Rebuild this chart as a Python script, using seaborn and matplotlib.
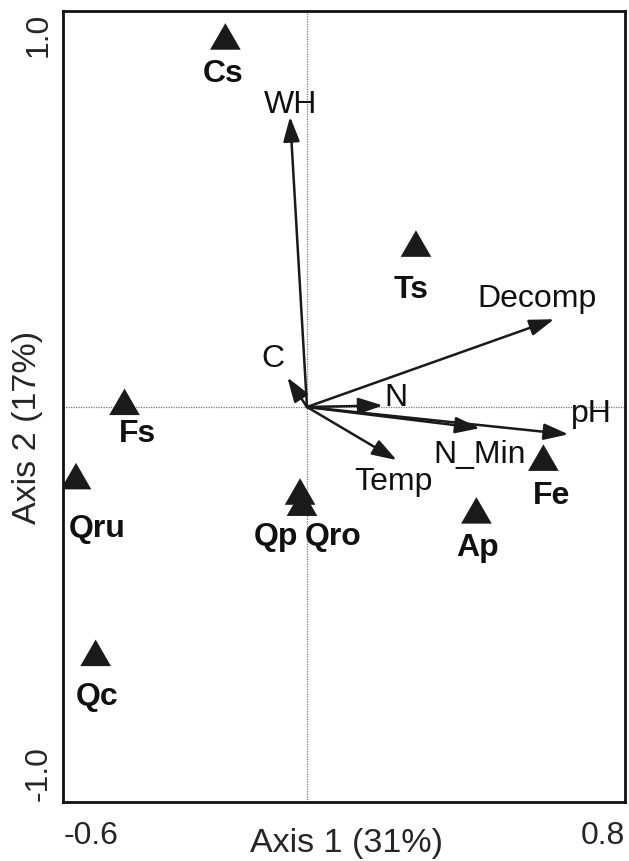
import matplotlib
matplotlib.use("Agg")
import matplotlib.pyplot as plt
import matplotlib.transforms as mtransforms
from matplotlib.path import Path
import seaborn as sns
import pandas as pd

# ---- data ----
sites = ["Cs", "Ts", "Fs", "Qru", "Qc", "Qp", "Qro", "Ap", "Fe"]
site_x = [-0.212, 0.283, -0.474, -0.600, -0.549, -0.018, -0.013, 0.440, 0.614]
site_y = [0.951, 0.413, 0.002, -0.191, -0.650, -0.231, -0.260, -0.280, -0.143]
site_label_x = [-0.219, 0.271, -0.440, -0.544, -0.544, -0.081, 0.068, 0.442, 0.636]
site_label_y = [0.845, 0.283, -0.090, -0.337, -0.774, -0.358, -0.358, -0.387, -0.252]

variables = ["WH", "C", "Decomp", "N", "pH", "N_Min", "Temp"]
var_x = [-0.044, -0.051, 0.642, 0.197, 0.679, 0.449, 0.233]
var_y = [0.754, 0.077, 0.228, 0.004, -0.071, -0.055, -0.138]
var_label_x = [-0.042, -0.089, 0.597, 0.230, 0.739, 0.449, 0.224]
var_label_y = [0.763, 0.105, 0.260, 0.003, -0.038, -0.146, -0.216]

x_ticks = [-0.6, -0.4, -0.2, 0.0, 0.2, 0.4, 0.6, 0.8]
x_ticklabels = ["-0.6", "", "", "", "", "", "", "0.8"]
y_ticks = [-1.0, -0.5, 0.0, 0.5, 1.0]
y_ticklabels = ["-1.0", "", "", "", "1.0"]
x_title = "Axis 1 (31%)"
y_title = "Axis 2 (17%)"

df = pd.DataFrame({"x": site_x, "y": site_y, "site": sites})

# ---- figure ----
sns.set_style("white")
plt.rcParams["font.family"] = ["Liberation Sans", "DejaVu Sans"]

W, H = 629, 861
fig = plt.figure(figsize=(W / 100, H / 100), dpi=100)
left, right, top, bottom = 63.3, 625, 11, 802
ax = fig.add_axes([left / W, 1 - bottom / H, (right - left) / W, (bottom - top) / H])

ax.axhline(0, color="#777777", lw=0.9, ls=(0, (1, 1)), zorder=1)
ax.axvline(0, color="#777777", lw=0.9, ls=(0, (1, 1)), zorder=1)

tri = Path([(0, 0.57735), (-0.5, -0.288675), (0.5, -0.288675), (0, 0.57735)],
           [Path.MOVETO, Path.LINETO, Path.LINETO, Path.CLOSEPOLY])
sns.scatterplot(data=df, x="x", y="y", marker=tri, s=650, color="#1a1a1a",
                edgecolor="none", linewidth=0, ax=ax, zorder=4, legend=False)

for lab, lx, ly in zip(sites, site_label_x, site_label_y):
    ax.text(lx, ly, lab, ha="center", va="baseline", fontsize=23,
            fontweight="bold", color="#111111", zorder=5)

for vx, vy in zip(var_x, var_y):
    ax.annotate("", xy=(vx, vy), xytext=(0, 0),
                arrowprops=dict(arrowstyle="-|>,head_length=1.5,head_width=0.5",
                                mutation_scale=10, color="#1a1a1a", lw=1.8,
                                shrinkA=0, shrinkB=0), zorder=3)
for lab, lx, ly in zip(variables, var_label_x, var_label_y):
    ax.text(lx, ly, lab, ha="center", va="baseline", fontsize=23,
            color="#111111", zorder=5)

ax.set_xlim((left - 307) / 385, (right - 307) / 385)
ax.set_ylim(-(bottom - 407) / 385, (407 - top) / 385)
ax.set_aspect("auto")

ax.set_xticks(x_ticks)
ax.set_xticklabels(x_ticklabels, fontsize=23)
ax.set_yticks(y_ticks)
ax.set_yticklabels(y_ticklabels, fontsize=23, rotation=90, va="center")
ax.tick_params(direction="out", length=6, width=1.5, color="#111111", pad=8)
ax.tick_params(axis="y", pad=1)

xl = ax.get_xticklabels()
xl[0].set_ha("left")
xl[0].set_transform(xl[0].get_transform() + mtransforms.ScaledTranslation(-12.7 / 100, 0, fig.dpi_scale_trans))
xl[-1].set_ha("right")
xl[-1].set_transform(xl[-1].get_transform() + mtransforms.ScaledTranslation(10 / 100, 0, fig.dpi_scale_trans))
yl = ax.get_yticklabels()
yl[-1].set_va("top")
yl[-1].set_transform(yl[-1].get_transform() + mtransforms.ScaledTranslation(0, 9 / 100, fig.dpi_scale_trans))
yl[0].set_va("bottom")
yl[0].set_transform(yl[0].get_transform() + mtransforms.ScaledTranslation(0, -9 / 100, fig.dpi_scale_trans))

ax.set_xlabel(x_title, fontsize=24.5, va="top")
ax.xaxis.set_label_coords(0.504, -0.033)
ax.set_ylabel(y_title, fontsize=24.5)
ax.yaxis.set_label_coords(-0.036, 0.474)

for sp in ax.spines.values():
    sp.set_visible(True)
    sp.set_linewidth(2)
    sp.set_color("#111111")

fig.savefig("out.png", dpi=100)
